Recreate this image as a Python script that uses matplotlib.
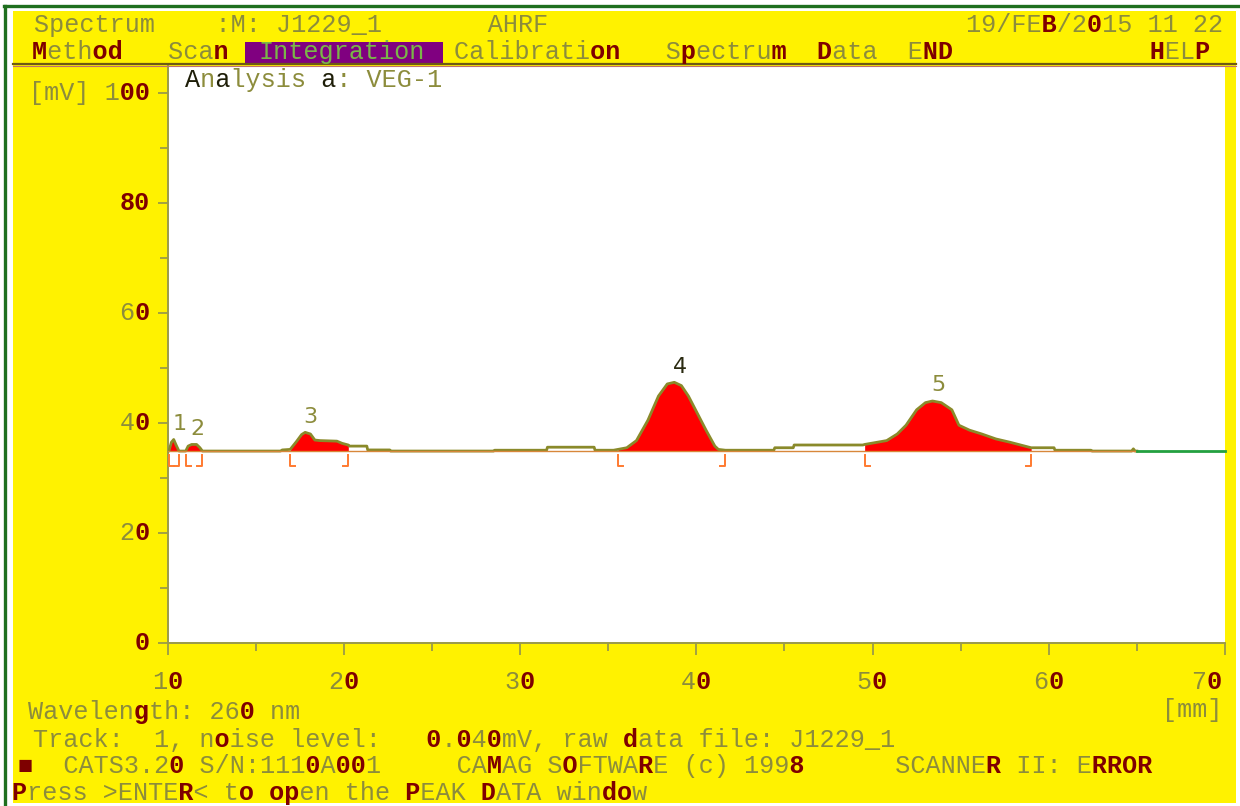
import matplotlib
matplotlib.use("Agg")
import matplotlib.pyplot as plt
import numpy as np
from matplotlib.patches import Rectangle
from matplotlib.lines import Line2D

W, H = 1240, 806
DPI = 100

# densitogram trace (position in mm, signal in mV)
trace_mm = [10.00, 10.07, 10.21, 10.34, 10.49, 10.64, 11.02, 11.16, 11.36, 11.64,
            11.83, 11.97, 16.40, 16.50, 16.95, 17.30, 17.60, 17.80, 18.10, 18.35,
            18.65, 19.60, 19.90, 20.25, 20.30, 21.30, 21.35, 22.60, 22.65, 28.50,
            28.55, 31.50, 31.55, 34.20, 34.25, 35.30, 35.55, 36.05, 36.60, 37.25,
            37.85, 38.35, 38.75, 39.15, 39.55, 40.05, 40.55, 41.05, 41.25, 41.65,
            44.40, 44.45, 45.50, 45.55, 49.45, 49.55, 50.80, 51.40, 51.90, 52.50,
            53.00, 53.40, 53.90, 54.50, 54.90, 55.50, 56.20, 57.00, 57.80, 59.00,
            60.30, 60.35, 62.40, 62.45, 64.70, 64.80, 64.90, 65.00]
trace_mv = [34.9, 34.9, 36.5, 37.0, 35.9, 34.9, 34.9, 35.8, 36.1, 36.1,
            35.5, 34.9, 34.9, 35.1, 35.2, 36.6, 37.9, 38.3, 38.0, 36.9,
            36.8, 36.7, 36.3, 36.0, 35.8, 35.8, 35.1, 35.1, 34.9, 34.9,
            35.05, 35.05, 35.6, 35.6, 35.05, 35.05, 35.2, 35.5, 36.8, 40.5,
            44.9, 47.1, 47.4, 46.8, 44.9, 41.8, 38.7, 35.8, 35.2, 35.05,
            35.05, 35.5, 35.5, 36.0, 36.0, 36.1, 36.8, 38.0, 39.6, 42.4,
            43.7, 44.0, 43.7, 42.4, 39.6, 38.7, 38.0, 37.1, 36.5, 35.5,
            35.5, 35.05, 35.05, 34.9, 34.9, 35.3, 34.9, 34.9]
baseline_mv = 34.9
baseline_end_mm = 65.0

peak_ids = ["1", "2", "3", "4", "5"]
peak_start = [10.07, 11.02, 16.95, 35.55, 49.55]
peak_end = [10.64, 11.97, 20.25, 41.65, 59.00]
peak_label_colors = ["#8c8c3c", "#8c8c3c", "#8c8c3c", "#2a2a10", "#8c8c3c"]

y_ticks = [0, 20, 40, 60, 80, 100]
y_tick_labels = ["0", "20", "40", "60", "80", "[mV] 100"]
x_ticks = [10, 20, 30, 40, 50, 60, 70]
x_tick_labels = ["10", "20", "30", "40", "50", "60", "70"]

header = "Spectrum    :M: J1229_1       AHRF"
date_str = "19/FEB/2015 11 22"
menu_left = "Method   Scan"
active_item = "Integration"
menu_right = "Calibration   Spectrum  Data  END             HELP"
analysis = "Analysis a: VEG-1"
wavelength = "Wavelength: 260 nm"
track = "Track:  1, noise level:   0.040mV, raw data file: J1229_1"
status = "\u25a0  CATS3.20 S/N:1110A001     CAMAG SOFTWARE (c) 1998      SCANNER II: ERROR"
prompt = "Press >ENTER< to open the PEAK DATA window"

YELLOW = "#fff200"
OLIVE = "#8c8c3c"
DARKRED = "#7e0000"
MONO = ["Liberation Mono", "DejaVu Sans Mono"]
FS = 18.1
PITCH = 0.6 * FS * DPI / 72
HOT = "0oOdDMPRBgp8\u25a0"

fig = plt.figure(figsize=(W / DPI, H / DPI), dpi=DPI, facecolor="white")


def term_text(x, y, s, hot=HOT, color=OLIVE, hot_color=DARKRED, hot_weight="bold"):
    # two layers on the same monospace grid: plain glyphs and the "blotted" ones
    plain = "".join(" " if c in hot else c for c in s)
    marked = "".join(c if c in hot else " " for c in s)
    fx, fy = x / W, 1 - (y + 7) / H
    fig.text(fx, fy, plain, color=color, family=MONO, size=FS, ha="left", va="baseline")
    if marked.strip():
        fig.text(fx, fy, marked, color=hot_color, family=MONO, size=FS,
                 ha="left", va="baseline", weight=hot_weight)


# screen frame
fig.add_artist(Rectangle((13 / W, 1 - 803 / H), (1236 - 13) / W, (803 - 11) / H,
                         transform=fig.transFigure, facecolor=YELLOW, edgecolor="none", zorder=-10))
fig.add_artist(Line2D([4 / W, 1], [1 - 6 / H] * 2, transform=fig.transFigure,
                      color="#1f6f1f", lw=2.4, zorder=-5))
fig.add_artist(Line2D([5 / W] * 2, [0, 1 - 6 / H], transform=fig.transFigure,
                      color="#1f6f1f", lw=2.4, zorder=-5))

# menu bar
fig.add_artist(Rectangle((245 / W, 1 - 64 / H), (443 - 245) / W, 22 / H,
                         transform=fig.transFigure, facecolor="#800080", edgecolor="none", zorder=1))
fig.add_artist(Line2D([13 / W, 1236 / W], [1 - 64 / H] * 2, transform=fig.transFigure,
                      color="#6e5a14", lw=1.6, zorder=2))
fig.add_artist(Line2D([13 / W, 1236 / W], [1 - 66 / H] * 2, transform=fig.transFigure,
                      color="#c07070", lw=0.8, zorder=2))

term_text(34, 25, header, hot="")
term_text(966, 25, date_str)
menu_x = 32
menu_hot = HOT + "nmNH"
term_text(menu_x, 52, menu_left, hot=menu_hot)
term_text(menu_x + 15 * PITCH, 52, active_item, hot="", color="#7ab648")
term_text(menu_x + 28 * PITCH, 52, menu_right, hot=menu_hot)

# plot area
left, right, top, bottom = 167.7, 1225, 66, 643
ax = fig.add_axes([left / W, 1 - bottom / H, (right - left) / W, (bottom - top) / H])
ax.set_facecolor("white")
ax.set_xlim(10, 70)
ax.set_ylim(0, (bottom - top) / 5.5)
for side in ["top", "right"]:
    ax.spines[side].set_visible(False)
for side in ["left", "bottom"]:
    ax.spines[side].set_color("#9a9a4a")
    ax.spines[side].set_linewidth(1.4)
ax.set_xticks(x_ticks)
ax.set_xticks(np.arange(15, 70, 10), minor=True)
ax.set_yticks(y_ticks)
ax.set_yticks(np.arange(10, 100, 20), minor=True)
ax.tick_params(which="both", direction="out", color="#9a9a4a", width=1.3,
               labelleft=False, labelbottom=False)
ax.tick_params(axis="y", which="major", length=7)
ax.tick_params(axis="y", which="minor", length=5.5)
ax.tick_params(axis="x", which="major", length=8.5)
ax.tick_params(axis="x", which="minor", length=5.5)

x = np.array(trace_mm)
y = np.array(trace_mv)
for s, e in zip(peak_start, peak_end):
    ax.fill_between(x, baseline_mv, y, where=(x >= s - 1e-9) & (x <= e + 1e-9),
                    color="#ff0000", lw=0, zorder=2)
ax.plot(x, y, color="#8a8a2a", lw=2.0, zorder=3)
ax.plot([10, baseline_end_mm], [baseline_mv] * 2, color="#d8873a", lw=1.0, zorder=4)
ax.plot([baseline_end_mm, 70], [baseline_mv] * 2, color="#23a040", lw=2.0, zorder=4,
        clip_on=False)

# integration window brackets
b_top, b_bot, foot = baseline_mv - 0.7, baseline_mv - 2.7, 0.3
for s, e in zip(peak_start, peak_end):
    ax.plot([s, s, s + foot], [b_top, b_bot, b_bot], color="#ff7a30", lw=1.4, zorder=4)
    ax.plot([e - foot, e, e], [b_bot, b_bot, b_top], color="#ff7a30", lw=1.4, zorder=4)

# peak numbers above each apex
for pid, s, e, c in zip(peak_ids, peak_start, peak_end, peak_label_colors):
    m = (x >= s) & (x <= e)
    i = np.argmax(np.where(m, y, -1))
    ax.annotate(pid, (x[i], y[i]), xytext=(4, 4), textcoords="offset points",
                ha="center", va="bottom", color=c, fontsize=16, family="DejaVu Sans",
                zorder=5)

# tick labels in screen font
for v, lab in zip(y_ticks, y_tick_labels):
    py = H - ax.transData.transform((10, v))[1]
    term_text(150 - len(lab) * PITCH, py, lab)
for v, lab in zip(x_ticks, x_tick_labels):
    px = ax.transData.transform((v, 0))[0]
    lx = min(px - len(lab) * PITCH / 2, 1222 - len(lab) * PITCH)
    term_text(lx, 682, lab)

term_text(185, 80, analysis, hot="Aa", hot_color="#1e1e08", hot_weight="normal")
term_text(1222 - 4 * PITCH, 710, "[mm]")
term_text(28, 712, wavelength)
term_text(33, 740, track)
term_text(18, 766, status)
term_text(12, 793, prompt)

fig.savefig("out.png", dpi=DPI, facecolor="white")
